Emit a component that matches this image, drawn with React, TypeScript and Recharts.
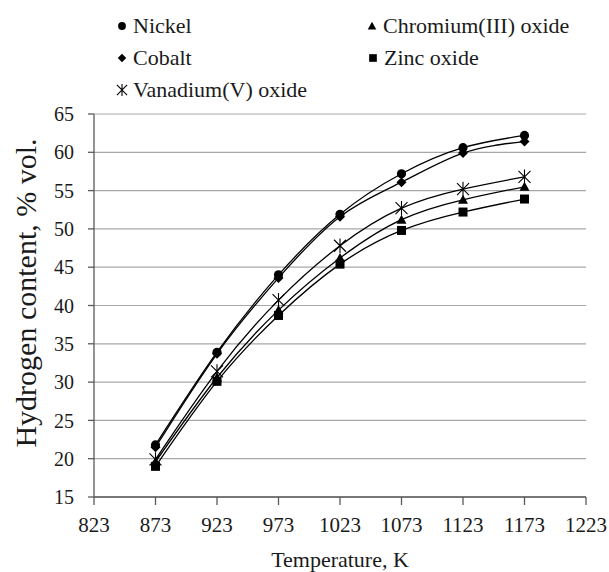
import { LineChart, Line, XAxis, YAxis, CartesianGrid } from "recharts";

const temps = [873, 923, 973, 1023, 1073, 1123, 1173];
const nickel = [21.8, 33.9, 44.0, 51.9, 57.2, 60.6, 62.2];
const cobalt = [21.5, 33.7, 43.6, 51.6, 56.1, 59.9, 61.4];
const chromium = [19.6, 30.6, 39.4, 46.2, 51.2, 53.8, 55.5];
const zinc = [19.0, 30.1, 38.7, 45.4, 49.8, 52.2, 53.9];
const vanadium = [19.9, 31.4, 40.7, 47.8, 52.7, 55.2, 56.8];

const xTicks = [823, 873, 923, 973, 1023, 1073, 1123, 1173, 1223];
const yTicks = [15, 20, 25, 30, 35, 40, 45, 50, 55, 60, 65];

const data = temps.map((t, i) => ({
    t,
    nickel: nickel[i],
    cobalt: cobalt[i],
    chromium: chromium[i],
    zinc: zinc[i],
    vanadium: vanadium[i],
}));

const FONT = "Liberation Serif";
const INK = "#1a1a1a";

type Kind = "circle" | "diamond" | "triangle" | "square" | "asterisk";

function Marker({ kind, cx, cy, s = 1 }: { kind: Kind; cx: number; cy: number; s?: number }) {
    if (kind === "circle") return <circle cx={cx} cy={cy} r={4.6 * s} fill="#000" />;
    if (kind === "diamond") {
        const r = 5 * s;
        return <path d={`M${cx},${cy - r}L${cx + r},${cy}L${cx},${cy + r}L${cx - r},${cy}Z`} fill="#000" />;
    }
    if (kind === "triangle") {
        const r = 5 * s;
        return <path d={`M${cx},${cy - r}L${cx + r},${cy + r * 0.8}L${cx - r},${cy + r * 0.8}Z`} fill="#000" />;
    }
    if (kind === "square") {
        const r = 4.5 * s;
        return <rect x={cx - r} y={cy - r} width={2 * r} height={2 * r} fill="#000" />;
    }
    const r = 6 * s;
    return (
        <path
            d={`M${cx - r},${cy - r}L${cx + r},${cy + r}M${cx + r},${cy - r}L${cx - r},${cy + r}M${cx},${cy - r * 1.2}L${cx},${cy + r * 1.2}`}
            stroke="#000"
            strokeWidth={1.1}
            fill="none"
        />
    );
}

const series: { key: string; kind: Kind }[] = [
    { key: "nickel", kind: "circle" },
    { key: "cobalt", kind: "diamond" },
    { key: "vanadium", kind: "asterisk" },
    { key: "zinc", kind: "square" },
    { key: "chromium", kind: "triangle" },
];

const legendItems: { name: string; kind: Kind; x: number; y: number }[] = [
    { name: "Nickel", kind: "circle", x: 122, y: 33 },
    { name: "Chromium(III) oxide", kind: "triangle", x: 372, y: 33 },
    { name: "Cobalt", kind: "diamond", x: 122, y: 65 },
    { name: "Zinc oxide", kind: "square", x: 373, y: 65 },
    { name: "Vanadium(V) oxide", kind: "asterisk", x: 122, y: 97 },
];

const tickStyle = { fill: INK, fontSize: 21, style: { fontFamily: FONT } };

export default function App() {
    return (
        <div
            style={{
                position: "absolute",
                left: 0,
                top: 0,
                width: 609,
                height: 572,
                background: "#fff",
                fontFamily: FONT,
            }}
        >
            <LineChart
                width={609}
                height={572}
                data={data}
                margin={{ top: 114, right: 23, left: 0, bottom: 0 }}
                style={{ fontFamily: FONT }}
            >
                <CartesianGrid vertical={false} stroke="#a8a8a8" strokeWidth={1.2} />
                <XAxis
                    dataKey="t"
                    type="number"
                    domain={[823, 1223]}
                    ticks={xTicks}
                    interval={0}
                    height={75}
                    tickSize={8}
                    tickMargin={12}
                    stroke="#5a5a5a"
                    strokeWidth={1.3}
                    tick={tickStyle}
                    label={{
                        value: "Temperature, K",
                        position: "insideBottom",
                        offset: 5,
                        fill: INK,
                        fontSize: 22,
                        style: { fontFamily: FONT },
                    }}
                />
                <YAxis
                    type="number"
                    domain={[15, 65]}
                    ticks={yTicks}
                    interval={0}
                    width={94}
                    tickSize={6}
                    tickMargin={14}
                    stroke="#5a5a5a"
                    strokeWidth={1.3}
                    tick={{ ...tickStyle, fontSize: 20 }}
                    label={{
                        content: () => (
                            <text
                                x={36}
                                y={293}
                                transform="rotate(-90, 36, 293)"
                                textAnchor="middle"
                                fill={INK}
                                fontSize={30}
                                style={{ fontFamily: FONT }}
                            >
                                Hydrogen content, % vol.
                            </text>
                        ),
                    }}
                />
                {series.map((s) => (
                    <Line
                        key={s.key}
                        dataKey={s.key}
                        type="natural"
                        stroke="#000"
                        strokeWidth={1.3}
                        isAnimationActive={false}
                        dot={(p: any) => <Marker key={`${s.key}-${p.index}`} kind={s.kind} cx={p.cx} cy={p.cy} />}
                        activeDot={false}
                    />
                ))}
            </LineChart>
            <svg width={609} height={110} style={{ position: "absolute", left: 0, top: 0, pointerEvents: "none" }}>
                {legendItems.map((it) => (
                    <g key={it.name}>
                        <Marker kind={it.kind} cx={it.x} cy={it.y - 7} s={0.85} />
                        <text x={it.x + 11} y={it.y} fill={INK} fontSize={22} style={{ fontFamily: FONT }}>
                            {it.name}
                        </text>
                    </g>
                ))}
            </svg>
        </div>
    );
}
